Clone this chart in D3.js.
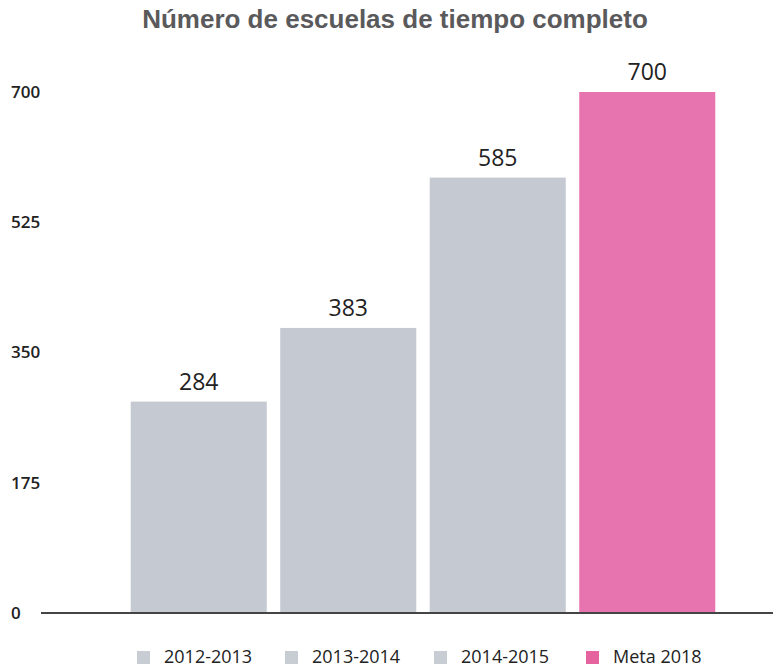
<!DOCTYPE html>
<html>
<head>
<meta charset="utf-8">
<script src="https://cdn.jsdelivr.net/npm/d3@7"></script>
<style>
  body { margin: 0; background: #fff; }
  svg { display: block; }
</style>
</head>
<body>
<div id="chart"></div>
<script>
// data
const categories = ["2012-2013", "2013-2014", "2014-2015", "Meta 2018"]
const values = [284, 383, 585, 700]
const barColors = ["#c5c9d1", "#c5c9d1", "#c5c9d1", "#e774ae"]
const legendColors = ["#c8ccd3", "#c8ccd3", "#c8ccd3", "#e5649f"]
const yTicks = [0, 175, 350, 525, 700]

const width = 773, height = 669

const svg = d3.select("#chart")
  .append("svg")
    .attr("width", width)
    .attr("height", height)

// title
svg.append("text")
  .attr("x", 395)
  .attr("y", 28)
  .attr("text-anchor", "middle")
  .attr("font-family", "'Liberation Sans', Arial, sans-serif")
  .attr("font-weight", "bold")
  .attr("font-size", 26)
  .attr("fill", "#5a5a5c")
  .text("Número de escuelas de tiempo completo")

// scales
const x = d3.scaleBand()
  .domain(categories)
  .range([124, 722])
  .paddingInner(0.09)
  .paddingOuter(0.045)

const y = d3.scaleLinear()
  .domain([0, 700])
  .range([613, 92])

// y tick labels (no axis line, just numbers)
svg.append("g")
  .selectAll("text")
  .data(yTicks)
  .join("text")
    .attr("x", 11)
    .attr("y", d => y(d))
    .attr("dy", "0.35em")
    .attr("font-family", "'Open Sans', sans-serif")
    .attr("font-weight", 600)
    .attr("font-size", 17)
    .attr("fill", "#222")
    .text(d => d)

// bars
svg.append("g")
  .selectAll("rect")
  .data(values)
  .join("rect")
    .attr("x", (d, i) => x(categories[i]))
    .attr("y", d => y(d))
    .attr("width", x.bandwidth())
    .attr("height", d => y(0) - y(d))
    .attr("fill", (d, i) => barColors[i])

// value labels
svg.append("g")
  .selectAll("text")
  .data(values)
  .join("text")
    .attr("x", (d, i) => x(categories[i]) + x.bandwidth() / 2)
    .attr("y", d => y(d) - 12)
    .attr("text-anchor", "middle")
    .attr("font-family", "'Open Sans', sans-serif")
    .attr("font-weight", 500)
    .attr("font-size", 23)
    .attr("fill", "#222")
    .text(d => d)

// baseline
svg.append("line")
  .attr("x1", 41)
  .attr("x2", width)
  .attr("y1", y(0))
  .attr("y2", y(0))
  .attr("stroke", "#444")
  .attr("stroke-width", 2)

// legend
const legendX = [137, 285, 434, 586]
const legend = svg.append("g")
  .selectAll("g")
  .data(categories)
  .join("g")
    .attr("transform", (d, i) => `translate(${legendX[i]},657)`)

legend.append("rect")
  .attr("x", 0)
  .attr("y", -6)
  .attr("width", 13)
  .attr("height", 13)
  .attr("fill", (d, i) => legendColors[i])

legend.append("text")
  .attr("x", 27)
  .attr("y", 0)
  .attr("dy", "0.35em")
  .attr("font-family", "'Open Sans', sans-serif")
  .attr("font-weight", 500)
  .attr("font-size", 18)
  .attr("fill", "#222")
  .text(d => d)
</script>
</body>
</html>
